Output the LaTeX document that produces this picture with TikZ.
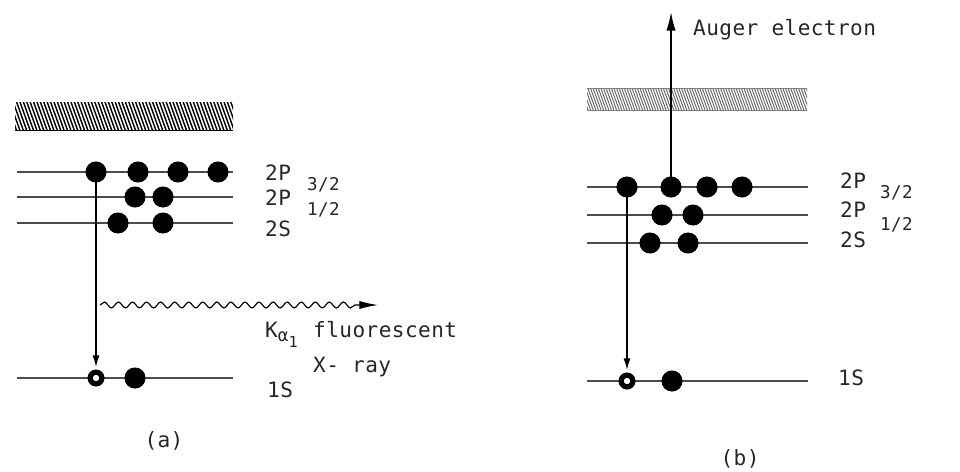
\documentclass[tikz,border=0pt]{standalone}
\usepackage{fontspec}
\newfontfamily\labfont[LetterSpace=2]{DejaVu Sans Mono}
\usetikzlibrary{arrows.meta,decorations.pathmorphing}

\begin{document}
\begin{tikzpicture}[x=0.03cm,y=-0.03cm]

			\tikzstyle{lab}=[font=\labfont\fontsize{18}{20}\selectfont, text=black!85, inner sep=0pt, anchor=base west]
			\tikzstyle{sub}=[lab, font=\labfont\fontsize{15}{16}\selectfont]
			\tikzstyle{level}=[line width=0.9pt, black!70]
			\tikzstyle{electron}=[circle, fill=black, inner sep=0pt, minimum size=18pt]
			\tikzstyle{hole}=[circle, draw=black, line width=4.5pt, inner sep=0pt, minimum size=10pt, fill=white]
			\tikzstyle{trans}=[line width=1.3pt, -{Latex[length=10pt,width=6pt]}, shorten >=2pt]
			\tikzstyle{wave}=[line width=1pt, decorate, decoration={snake, amplitude=2.5pt, segment length=12pt, post length=14pt}, -{Latex[length=16pt,width=7pt]}]

			\useasboundingbox (0,0) rectangle (960,471);

			% (a) continuum band
			\begin{scope}
			\clip (15,102) rectangle (233,130);
			\foreach \i in {0,...,70} \draw[line width=1.2pt] (3+\i*3.4,102) -- (13+\i*3.4,130);
			\end{scope}
			\draw[line width=0.8pt] (15,130) -- (233,130);

			\draw[level] (17,172) -- (233,172);
			\draw[level] (17,197) -- (233,197);
			\draw[level] (17,223) -- (233,223);
			\draw[level] (17,378) -- (233,378);

			\node[electron] (pa1) at (96,172) {};
			\node[electron] (pa2) at (138,172) {};
			\node[electron] (pa3) at (178,172) {};
			\node[electron] (pa4) at (218,172) {};
			\node[electron] (qa1) at (135,197) {};
			\node[electron] (qa2) at (163,197) {};
			\node[electron] (sa1) at (118,223) {};
			\node[electron] (sa2) at (163,223) {};
			\node[hole] (ha) at (96,378) {};
			\node[electron] (ka) at (135,378) {};

			\draw[trans] (pa1.center) -- (ha.north);

			\coordinate (xs) at (100,305);
			\coordinate (xe) at (378,305);
			\draw[wave] (xs) -- (xe);

			\node[lab] (la1) at (265,180) {2P};
			\node[sub] at (307,190) {3/2};
			\node[lab] (la2) at (265,205) {2P};
			\node[sub] at (307,215) {1/2};
			\node[lab] (la3) at (265,236) {2S};
			\node[lab] (kal) at (265,337) {K\raisebox{-4pt}{\fontsize{15}{16}\selectfont α}\raisebox{-9pt}{\fontsize{13}{16}\selectfont 1}};
			\node[lab] (fl) at (313,337) {fluorescent};
			\node[lab] (xr) at (313,372) {X- ray};
			\node[lab] (la4) at (267,397) {1S};
			\node[lab, anchor=base] (capa) at (164,447) {(a)};

			% (b) continuum band
			\begin{scope}
			\clip (587,88) rectangle (807,110);
			\foreach \i in {0,...,90} \draw[line width=0.8pt, black!60] (580+\i*2.6,88) -- (588+\i*2.6,110);
			\end{scope}
			\draw[line width=0.5pt, black!50] (587,88) -- (807,88);
			\draw[line width=0.5pt, black!50] (587,110) -- (807,110);

			\draw[level] (587,187) -- (808,187);
			\draw[level] (587,215) -- (808,215);
			\draw[level] (587,243) -- (808,243);
			\draw[level] (587,381) -- (808,381);

			\node[electron] (pb1) at (627,187) {};
			\node[electron] (pb2) at (671,187) {};
			\node[electron] (pb3) at (707,187) {};
			\node[electron] (pb4) at (742,187) {};
			\node[electron] (qb1) at (662,215) {};
			\node[electron] (qb2) at (693,215) {};
			\node[electron] (sb1) at (650,243) {};
			\node[electron] (sb2) at (688,243) {};
			\node[hole] (hb) at (627,381) {};
			\node[electron] (kb) at (672,381) {};

			\draw[trans] (pb1.center) -- (hb.north);

			\coordinate (aug) at (671,12);
			\draw[line width=1.3pt, -{Latex[length=16pt,width=8pt]}] (pb2.center) -- (aug);
			\node[lab] (auger) at (693,35) {Auger electron};

			\node[lab] (lb1) at (840,188) {2P};
			\node[sub] at (880,198) {3/2};
			\node[lab] (lb2) at (840,217) {2P};
			\node[sub] at (880,230) {1/2};
			\node[lab] (lb3) at (840,247) {2S};
			\node[lab] (lb4) at (838,385) {1S};
			\node[lab, anchor=base] (capb) at (740,465) {(b)};

\end{tikzpicture}
\end{document}
